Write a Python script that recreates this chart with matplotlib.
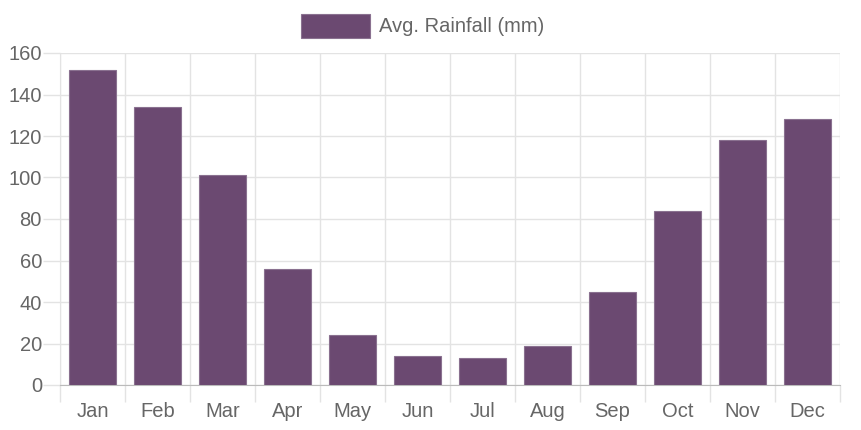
import matplotlib.pyplot as plt
from matplotlib.patches import Rectangle

months = ["Jan", "Feb", "Mar", "Apr", "May", "Jun", "Jul", "Aug", "Sep", "Oct", "Nov", "Dec"]
rainfall = [152, 134, 101, 56, 24, 14, 13, 19, 45, 84, 118, 128]
yticks = [0, 20, 40, 60, 80, 100, 120, 140, 160]
label = "Avg. Rainfall (mm)"

bar_color = "#6b4971"
grid_color = "#e3e3e3"
text_color = "#666666"

plt.rcParams['font.family'] = ['Liberation Sans', 'DejaVu Sans']

W, H = 861, 430
fig = plt.figure(figsize=(W / 100, H / 100), dpi=100)
left, right, top, bottom = 60, 840, 53, 385
ax = fig.add_axes([left / W, 1 - bottom / H, (right - left) / W, (bottom - top) / H])

x = range(len(months))
ax.bar(x, rainfall, width=0.72, color=bar_color, edgecolor="#8a7190", linewidth=0.8, zorder=3)

ax.set_xlim(-0.5, 11.5)
ax.set_ylim(0, 160)
ax.set_yticks(yticks)
ax.set_xticks([i - 0.5 for i in range(13)], minor=False)
ax.set_xticklabels([])
ax.set_xticks(list(x), minor=True)
ax.set_xticklabels(months, minor=True)

ax.grid(True, which="major", color=grid_color, linewidth=1, zorder=0)
ax.tick_params(axis="x", which="major", length=12, color=grid_color, width=1)
ax.tick_params(axis="x", which="minor", length=0, pad=12, labelsize=14.5, labelcolor=text_color)
ax.tick_params(axis="y", length=12, color=grid_color, width=1, pad=1, labelsize=14.5, labelcolor=text_color)

for s in ["top", "right"]:
    ax.spines[s].set_visible(False)
ax.spines["left"].set_color(grid_color)
ax.spines["bottom"].set_color("#bbbbbb")

# legend like chart.js
fig.patches.append(Rectangle((301 / W, 1 - 38 / H), 69 / W, 24 / H, transform=fig.transFigure,
                             facecolor=bar_color, edgecolor="#8a7190", linewidth=0.8))
fig.text(379 / W, 1 - 26 / H, label, ha="left", va="center", fontsize=14.5, color=text_color)

fig.savefig("out.png", dpi=100)
